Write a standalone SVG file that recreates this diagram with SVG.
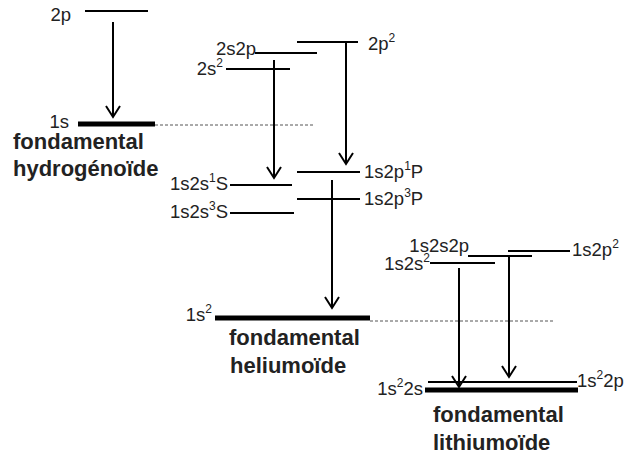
<svg xmlns="http://www.w3.org/2000/svg" width="624" height="455" viewBox="0 0 624 455">
<style>
.lv{stroke:#000;stroke-width:2;fill:none}
.gr{stroke:#000;stroke-width:5;fill:none}
.ds{stroke:#555;stroke-width:1;stroke-dasharray:3 2;fill:none}
.ar{stroke:#000;stroke-width:2;fill:none}
text{font-family:"Liberation Sans",Arial,sans-serif;fill:#222}
.lb{font-size:18.5px}
.bd{font-size:22px;font-weight:bold}
.e{text-anchor:end}
.sp{font-size:12px}
</style>
<g id="connectors">
<line class="ds" x1="155" y1="125" x2="315" y2="125"/>
<line class="ds" x1="370" y1="321" x2="555" y2="321"/>
<line class="ar" x1="113" y1="22" x2="113" y2="117"/>
<line class="ar" x1="274" y1="60" x2="274" y2="178"/>
<line class="ar" x1="346" y1="43" x2="346" y2="164"/>
<line class="ar" x1="332" y1="180" x2="332" y2="308"/>
<line class="ar" x1="459" y1="268" x2="459" y2="387"/>
<line class="ar" x1="509" y1="257" x2="509" y2="377"/>
<path class="ar" d="M106,106 L113,117 L120,106 M267,167 L274,178 L281,167 M339,153 L346,164 L353,153 M325,297 L332,308 L339,297 M452,376 L459,387 L466,376 M502,366 L509,377 L516,366"/>
</g>
<g id="hydrogen">
<g id="n-2p"><line class="lv" x1="85" y1="11" x2="148" y2="11"/><text class="lb e" x="71" y="21">2p</text></g>
<g id="n-1s"><line class="gr" x1="78" y1="124" x2="155" y2="124"/><text class="lb e" x="69" y="128">1s</text></g>
<g id="n-hyd"><text class="bd" x="13" y="149">fondamental</text><text class="bd" x="13" y="176">hydrogénoïde</text></g>
</g>
<g id="helium">
<g id="n-2p2"><line class="lv" x1="297" y1="42" x2="358" y2="42"/><text class="lb" x="368" y="50">2p<tspan class="sp" dy="-8">2</tspan></text></g>
<g id="n-2s2p"><line class="lv" x1="255" y1="53" x2="317" y2="53"/><text class="lb e" x="256" y="55">2s2p</text></g>
<g id="n-2s2"><line class="lv" x1="226" y1="69" x2="290" y2="69"/><text class="lb e" x="223" y="75">2s<tspan class="sp" dy="-8">2</tspan></text></g>
<g id="n-1P"><line class="lv" x1="297" y1="172" x2="360" y2="172"/><text class="lb" x="364" y="178">1s2p<tspan class="sp" dy="-8">1</tspan><tspan dy="8">P</tspan></text></g>
<g id="n-1S"><line class="lv" x1="230" y1="185" x2="292" y2="185"/><text class="lb e" x="228" y="190">1s2s<tspan class="sp" dy="-8">1</tspan><tspan dy="8">S</tspan></text></g>
<g id="n-3P"><line class="lv" x1="297" y1="199" x2="360" y2="199"/><text class="lb" x="364" y="205">1s2p<tspan class="sp" dy="-8">3</tspan><tspan dy="8">P</tspan></text></g>
<g id="n-3S"><line class="lv" x1="230" y1="213" x2="294" y2="213"/><text class="lb e" x="228" y="218">1s2s<tspan class="sp" dy="-8">3</tspan><tspan dy="8">S</tspan></text></g>
<g id="n-1s2"><line class="gr" x1="215" y1="318" x2="370" y2="318"/><text class="lb e" x="212" y="321">1s<tspan class="sp" dy="-8">2</tspan></text></g>
<g id="n-hel"><text class="bd" x="229" y="345">fondamental</text><text class="bd" x="230" y="373">heliumoïde</text></g>
</g>
<g id="lithium">
<g id="n-1s2p2"><line class="lv" x1="508" y1="251" x2="570" y2="251"/><text class="lb" x="572" y="256">1s2p<tspan class="sp" dy="-8">2</tspan></text></g>
<g id="n-1s2s2p"><line class="lv" x1="468" y1="256" x2="532" y2="256"/><text class="lb e" x="469" y="252">1s2s2p</text></g>
<g id="n-1s2s2"><line class="lv" x1="430" y1="263" x2="495" y2="263"/><text class="lb e" x="430" y="270">1s2s<tspan class="sp" dy="-8">2</tspan></text></g>
<g id="n-1s22p"><line class="lv" x1="428" y1="382" x2="577" y2="382"/><text class="lb" x="577" y="387">1s<tspan class="sp" dy="-8">2</tspan><tspan dy="8">2p</tspan></text></g>
<g id="n-1s22s"><line class="gr" x1="425" y1="390" x2="578" y2="390"/><text class="lb e" x="423" y="395">1s<tspan class="sp" dy="-8">2</tspan><tspan dy="8">2s</tspan></text></g>
<g id="n-lit"><text class="bd" x="433" y="422">fondamental</text><text class="bd" x="433" y="450">lithiumoïde</text></g>
</g>
</svg>
